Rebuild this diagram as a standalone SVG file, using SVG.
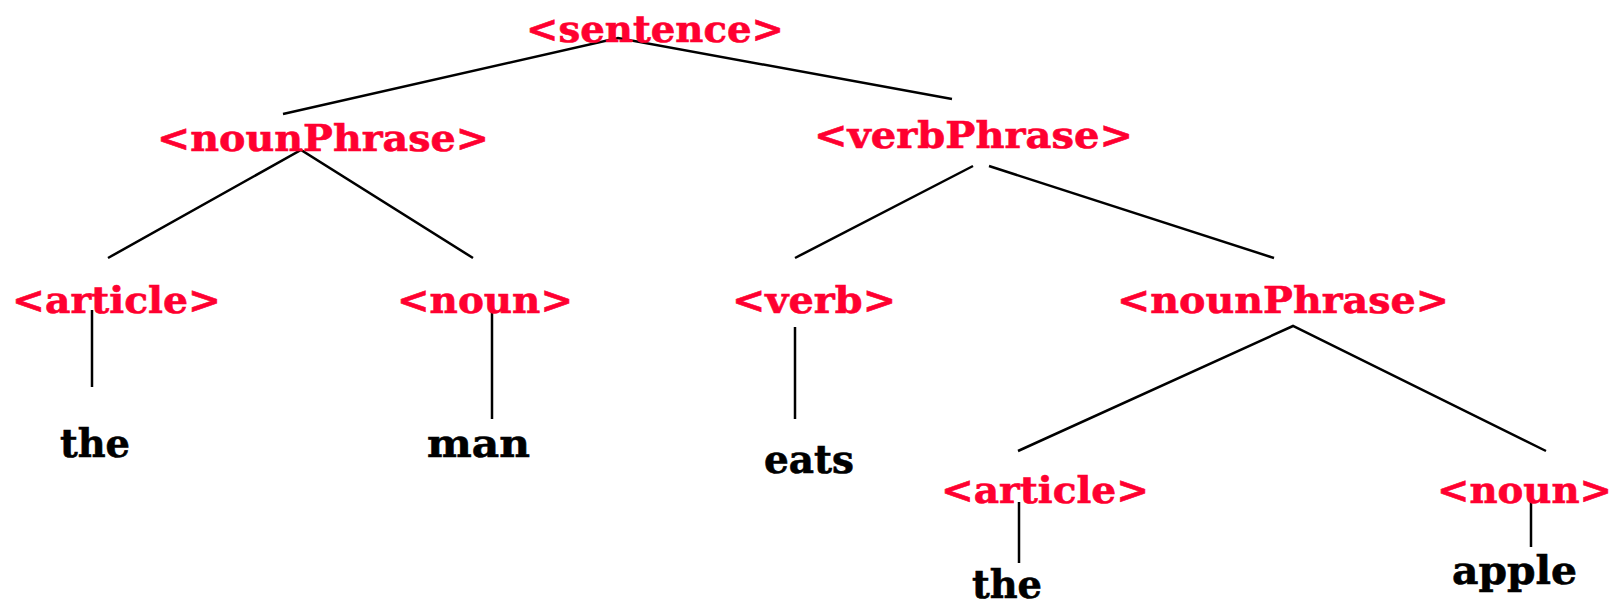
<svg xmlns="http://www.w3.org/2000/svg" width="1615" height="605" viewBox="0 0 1615 605">
<style>
.nt{font-family:"DejaVu Serif","Liberation Serif",serif;font-weight:bold;font-size:37px;fill:#ff0030;stroke:#ff0030;stroke-width:0.6}
.w{font-family:"DejaVu Serif","Liberation Serif",serif;font-weight:bold;font-size:39px;fill:#000;stroke:#000;stroke-width:0.6}
.e{stroke:#000;stroke-width:2.5;fill:none;stroke-linecap:butt}
</style>
<rect width="1615" height="605" fill="#fff"/>
<g id="connectors">
<polyline class="e" points="283,114 618,38 952,99"/>
<polyline class="e" points="108,258 301,150 473,258"/>
<line class="e" x1="973" y1="166" x2="795" y2="258"/>
<line class="e" x1="989" y1="166" x2="1274" y2="258"/>
<polyline class="e" points="1018,451 1293,326 1546,451"/>
<line class="e" x1="92" y1="310" x2="92" y2="387"/>
<line class="e" x1="492" y1="310" x2="492" y2="419"/>
<line class="e" x1="795" y1="327" x2="795" y2="419"/>
<line class="e" x1="1019" y1="502" x2="1019" y2="563"/>
<line class="e" x1="1531" y1="502" x2="1531" y2="547"/>
</g>
<g id="sentence"><text class="nt" x="526" y="42" textLength="258" lengthAdjust="spacingAndGlyphs">&lt;sentence&gt;</text></g>
<g id="nounPhrase1"><text class="nt" x="157" y="151" textLength="332" lengthAdjust="spacingAndGlyphs">&lt;nounPhrase&gt;</text></g>
<g id="verbPhrase"><text class="nt" x="814" y="148" textLength="319" lengthAdjust="spacingAndGlyphs">&lt;verbPhrase&gt;</text></g>
<g id="article1"><text class="nt" x="12" y="313" textLength="209" lengthAdjust="spacingAndGlyphs">&lt;article&gt;</text></g>
<g id="noun1"><text class="nt" x="397" y="313" textLength="176" lengthAdjust="spacingAndGlyphs">&lt;noun&gt;</text></g>
<g id="verb"><text class="nt" x="732" y="313" textLength="164" lengthAdjust="spacingAndGlyphs">&lt;verb&gt;</text></g>
<g id="nounPhrase2"><text class="nt" x="1117" y="313" textLength="332" lengthAdjust="spacingAndGlyphs">&lt;nounPhrase&gt;</text></g>
<g id="the1"><text class="w" x="60" y="457" textLength="70" lengthAdjust="spacingAndGlyphs">the</text></g>
<g id="man"><text class="w" x="427" y="457" textLength="103" lengthAdjust="spacingAndGlyphs">man</text></g>
<g id="eats"><text class="w" x="764" y="473" textLength="90" lengthAdjust="spacingAndGlyphs">eats</text></g>
<g id="article2"><text class="nt" x="941" y="503" textLength="208" lengthAdjust="spacingAndGlyphs">&lt;article&gt;</text></g>
<g id="noun2"><text class="nt" x="1437" y="503" textLength="175" lengthAdjust="spacingAndGlyphs">&lt;noun&gt;</text></g>
<g id="the2"><text class="w" x="972" y="598" textLength="70" lengthAdjust="spacingAndGlyphs">the</text></g>
<g id="apple"><text class="w" x="1452" y="584" textLength="125" lengthAdjust="spacingAndGlyphs">apple</text></g>
</svg>
